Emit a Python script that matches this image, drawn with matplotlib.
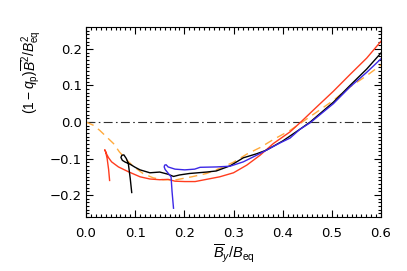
import matplotlib
matplotlib.use("Agg")
import matplotlib.pyplot as plt
from matplotlib.ticker import MultipleLocator

# curves (x = B_y/B_eq, y = (1-q_p) B^2/B_eq^2)
red_x = [0.048, 0.046, 0.043, 0.040, 0.038, 0.039, 0.042, 0.046, 0.052, 0.066, 0.086,
         0.110, 0.130, 0.150, 0.167, 0.181, 0.201, 0.222, 0.245, 0.272, 0.300, 0.327,
         0.354, 0.381, 0.415, 0.437, 0.469, 0.503, 0.537, 0.571, 0.600]
red_y = [-0.160, -0.130, -0.100, -0.082, -0.076, -0.078, -0.088, -0.098, -0.109, -0.123, -0.136,
         -0.150, -0.156, -0.158, -0.157, -0.162, -0.163, -0.163, -0.157, -0.150, -0.139, -0.118,
         -0.091, -0.059, -0.027, 0.000, 0.041, 0.084, 0.130, 0.175, 0.221]

black_x = [0.093, 0.090, 0.086, 0.082, 0.077, 0.073, 0.071, 0.074, 0.080, 0.089, 0.100,
           0.110, 0.130, 0.150, 0.167, 0.178, 0.190, 0.210, 0.245, 0.265, 0.293, 0.320,
           0.347, 0.367, 0.400, 0.435, 0.456, 0.503, 0.537, 0.571, 0.600]
black_y = [-0.193, -0.155, -0.113, -0.100, -0.090, -0.091, -0.097, -0.105, -0.110, -0.115, -0.124,
           -0.131, -0.139, -0.137, -0.143, -0.149, -0.145, -0.141, -0.137, -0.134, -0.120, -0.098,
           -0.087, -0.077, -0.052, -0.020, 0.000, 0.054, 0.100, 0.145, 0.189]

blue_x = [0.178, 0.175, 0.173, 0.167, 0.161, 0.159, 0.160, 0.163, 0.167, 0.181, 0.201,
          0.221, 0.232, 0.265, 0.293, 0.320, 0.347, 0.367, 0.395, 0.415, 0.435, 0.456,
          0.503, 0.537, 0.571, 0.600]
blue_y = [-0.236, -0.190, -0.150, -0.140, -0.130, -0.123, -0.118, -0.117, -0.123, -0.129, -0.131,
          -0.129, -0.124, -0.123, -0.121, -0.109, -0.091, -0.077, -0.057, -0.044, -0.020, -0.002,
          0.050, 0.096, 0.136, 0.173]

fit_x = [0.0, 0.015, 0.028, 0.042, 0.056, 0.068, 0.083, 0.096, 0.116, 0.137, 0.157, 0.184,
         0.215, 0.245, 0.272, 0.300, 0.327, 0.354, 0.381, 0.415, 0.440, 0.469, 0.503, 0.537,
         0.571, 0.600]
fit_y = [0.0, -0.009, -0.023, -0.041, -0.059, -0.082, -0.104, -0.121, -0.141, -0.153, -0.158, -0.158,
         -0.150, -0.141, -0.127, -0.110, -0.088, -0.070, -0.048, -0.023, 0.000, 0.027, 0.059, 0.096,
         0.127, 0.156]

plt.rcParams['font.family'] = ['DejaVu Sans']
plt.rcParams['font.size'] = 9.5
# helvetica-like maths, closer to the IDL labels
plt.rcParams['mathtext.fontset'] = 'custom'
plt.rcParams['mathtext.rm'] = 'Liberation Sans'
plt.rcParams['mathtext.it'] = 'Liberation Sans:italic'
plt.rcParams['mathtext.bf'] = 'Liberation Sans:bold'

fig = plt.figure(figsize=(4.07, 2.71), dpi=100)
ax = fig.add_axes([86 / 407, 1 - 217 / 271, 295 / 407, 190 / 271])

ax.axhline(0, color='#303030', lw=0.8, dashes=(8, 3, 1.5, 3))
ax.plot(fit_x, fit_y, color='#ffaa3c', lw=1.0, dashes=(6, 4))
ax.plot(red_x, red_y, color='#ff3c1e', lw=1.0)
ax.plot(black_x, black_y, color='black', lw=1.0)
ax.plot(blue_x, blue_y, color='#3c28e6', lw=1.0)

ax.set_xlim(0, 0.6)
ax.set_ylim(-0.26, 0.26)
ax.xaxis.set_major_locator(MultipleLocator(0.1))
ax.xaxis.set_minor_locator(MultipleLocator(0.01))
ax.yaxis.set_major_locator(MultipleLocator(0.1))
ax.yaxis.set_minor_locator(MultipleLocator(0.01))
ax.xaxis.set_major_formatter(lambda v, p: f"{v:.1f}")
ax.yaxis.set_major_formatter(lambda v, p: f"{v:.1f}".replace('-', '\u2212'))
ax.tick_params(which='both', direction='in', top=True, right=True, width=0.8)
ax.tick_params(which='major', length=5)
ax.tick_params(which='minor', length=2.5)
ax.tick_params(axis='x', pad=7)
ax.tick_params(axis='y', pad=3)
for s in ax.spines.values():
    s.set_linewidth(0.8)

ax.set_xlabel(r'$\overline{B}_y/B_{\rm eq}$', fontsize=10.5, labelpad=2)
ax.set_ylabel(r'$(1-q_{\rm p})\overline{B}^2/B_{\rm eq}^2$', fontsize=10)
ax.yaxis.label.set_va('center')
ax.yaxis.set_label_coords(-0.187, 0.76)

fig.savefig('out.png', dpi=100)
